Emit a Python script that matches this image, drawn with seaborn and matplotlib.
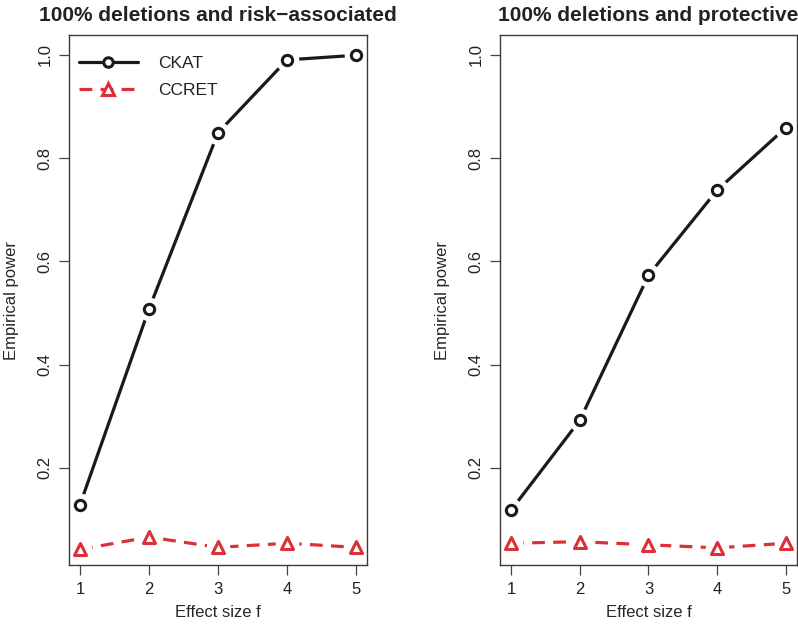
"""
plot.py

Empirical power of CKAT vs CCRET by effect size, two scenarios.
"""

import pandas as pd
import matplotlib.pyplot as plt
import seaborn as sns
from matplotlib.lines import Line2D

#=======================================================================
#  Data
#=======================================================================

effect = [1, 2, 3, 4, 5]

risk_ckat = [0.129, 0.508, 0.849, 0.990, 0.999]
risk_ccret = [0.042, 0.066, 0.046, 0.054, 0.046]

prot_ckat = [0.118, 0.292, 0.573, 0.738, 0.859]
prot_ccret = [0.054, 0.057, 0.051, 0.045, 0.054]

titles = ['100% deletions and risk\u2212associated',
          '100% deletions and protective']

methods = ['CKAT', 'CCRET']
yticks = [0.2, 0.4, 0.6, 0.8, 1.0]

#=======================================================================
#  Build a long table
#=======================================================================

def make_frame(ckat, ccret):
    df = pd.DataFrame({'f': effect * 2,
                       'power': ckat + ccret,
                       'method': ['CKAT'] * 5 + ['CCRET'] * 5})
    return df

panels = [make_frame(risk_ckat, risk_ccret),
          make_frame(prot_ckat, prot_ccret)]

#=======================================================================
#  Drawing
#=======================================================================

sns.set_style('white')
plt.rcParams['font.family'] = ['Liberation Sans', 'DejaVu Sans']
plt.rcParams['text.color'] = '#222222'

pal = {'CKAT': '#1a1a1a', 'CCRET': '#dc3038'}
mark = {'CKAT': 'o', 'CCRET': '^'}
size = {'CKAT': 55, 'CCRET': 75}
dash = {'CKAT': '', 'CCRET': (4, 2.6)}

fig = plt.figure(figsize=(7.98, 6.27), dpi=100)
axes = [fig.add_axes([0.0865, 0.099, 0.3735, 0.845]),
        fig.add_axes([0.6266, 0.099, 0.3721, 0.845])]

for ax, df, title in zip(axes, panels, titles):

    #  white disc markers on the line itself give the R type="b" gaps
    sns.lineplot(data=df, x='f', y='power', hue='method', style='method',
                 palette=pal, dashes=dash, linewidth=2.3, ax=ax,
                 markers={'CKAT': 'o', 'CCRET': 'o'}, markersize=17,
                 markerfacecolor='white', markeredgecolor='white',
                 markeredgewidth=0, legend=False)

    for m in methods:
        sub = df[df['method'] == m]
        sns.scatterplot(data=sub, x='f', y='power', marker=mark[m],
                        s=size[m], color='white', edgecolor=pal[m],
                        linewidth=2.2, ax=ax, legend=False, zorder=5)

    ax.set_xlim(0.84, 5.16)
    ax.set_ylim(0.012, 1.038)
    ax.set_xticks(effect)
    ax.set_yticks(yticks)
    ax.set_yticklabels([f'{v:.1f}' for v in yticks], rotation=90,
                       va='center')
    ax.tick_params(axis='both', direction='out', length=7, width=0.9,
                   color='#444444', labelsize=12, pad=5,
                   labelcolor='#222222', left=True, bottom=True)
    ax.set_xlabel('Effect size f', fontsize=12, labelpad=6)
    ax.set_ylabel('Empirical power', fontsize=12, labelpad=13)
    ax.set_title(title, fontsize=15, fontweight='bold', pad=10)

    for s in ax.spines.values():
        s.set_color('#3a3a3a')
        s.set_linewidth(1.0)

#
#  Legend in the left panel
#

handles = [Line2D([], [], color=pal['CKAT'], lw=2.3, marker='o',
                  markersize=6.8, mfc='white', mew=2.2),
           Line2D([], [], color=pal['CCRET'], lw=2.3, ls=(0, (4, 2.6)),
                  marker='^', markersize=8, mfc='white', mew=2.2)]

axes[0].legend(handles, methods, loc='upper left', frameon=False,
               bbox_to_anchor=(-0.02, 0.99), fontsize=12.5,
               handlelength=3.4, handletextpad=1.2, labelspacing=0.65)

fig.savefig('out.png', dpi=100)
